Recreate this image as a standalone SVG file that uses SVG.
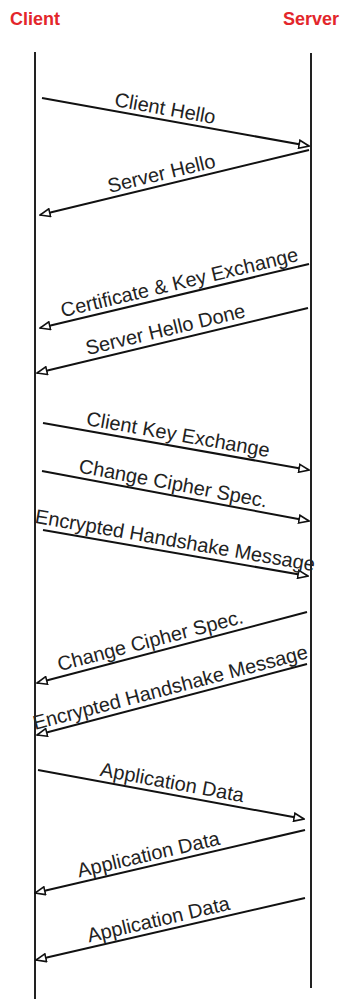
<svg xmlns="http://www.w3.org/2000/svg" width="343" height="999" viewBox="0 0 343 999">
<defs>
<style>
.hdr{font-family:"Liberation Sans",Arial,sans-serif;font-weight:bold;font-size:18px;fill:#e3262b}
.life{stroke:#222;stroke-width:2;fill:none}
.msg{stroke:#111;stroke-width:2;fill:none;marker-end:url(#open)}
.lbl{font-family:"Liberation Sans",Arial,sans-serif;font-size:20px;fill:#222;text-anchor:middle}
</style>
<marker id="open" viewBox="0 0 12 10" refX="11" refY="5" markerWidth="12" markerHeight="10" markerUnits="userSpaceOnUse" orient="auto">
<path d="M1,1 L11,5 L1,9 Z" fill="#fff" stroke="#111" stroke-width="1.6" stroke-linejoin="miter"/>
</marker>
</defs>
<rect width="343" height="999" fill="#fff"/>
<g id="client">
<text class="hdr" x="10" y="25">Client</text>
<line class="life" x1="35" y1="52" x2="35" y2="999"/>
</g>
<g id="server">
<text class="hdr" x="283" y="25">Server</text>
<line class="life" x1="311" y1="53" x2="311" y2="988"/>
</g>
<g id="connectors">
<line class="msg" x1="42" y1="98" x2="309" y2="146"/>
<line class="msg" x1="309" y1="150" x2="40" y2="215"/>
<line class="msg" x1="309" y1="264" x2="40" y2="328"/>
<line class="msg" x1="308" y1="308" x2="37" y2="373"/>
<line class="msg" x1="43" y1="423" x2="309" y2="470"/>
<line class="msg" x1="42" y1="471" x2="309" y2="521"/>
<line class="msg" x1="43" y1="530" x2="308" y2="576"/>
<line class="msg" x1="307" y1="612" x2="37" y2="683"/>
<line class="msg" x1="307" y1="664" x2="37" y2="735"/>
<line class="msg" x1="38" y1="770" x2="304" y2="819"/>
<line class="msg" x1="305" y1="830" x2="35" y2="893"/>
<line class="msg" x1="305" y1="898" x2="36" y2="960"/>
</g>
<g id="labels">
<text class="lbl" x="164" y="115" transform="rotate(10.2 164 115)">Client Hello</text>
<text class="lbl" x="163" y="180" transform="rotate(-13.6 163 180)">Server Hello</text>
<text class="lbl" x="181" y="289" transform="rotate(-13.4 181 289)">Certificate &amp; Key Exchange</text>
<text class="lbl" x="167" y="336" transform="rotate(-13.5 167 336)">Server Hello Done</text>
<text class="lbl" x="177" y="441" transform="rotate(10 177 441)">Client Key Exchange</text>
<text class="lbl" x="172" y="490" transform="rotate(10.6 172 490)">Change Cipher Spec.</text>
<text class="lbl" x="174" y="547" transform="rotate(9.85 174 547)">Encrypted Handshake Message</text>
<text class="lbl" x="152" y="647" transform="rotate(-14.7 152 647)">Change Cipher Spec.</text>
<text class="lbl" x="172" y="694" transform="rotate(-14.7 172 694)">Encrypted Handshake Message</text>
<text class="lbl" x="171" y="789" transform="rotate(10.4 171 789)">Application Data</text>
<text class="lbl" x="150" y="861" transform="rotate(-13.1 150 861)">Application Data</text>
<text class="lbl" x="160" y="926" transform="rotate(-13 160 926)">Application Data</text>
</g>
</svg>
